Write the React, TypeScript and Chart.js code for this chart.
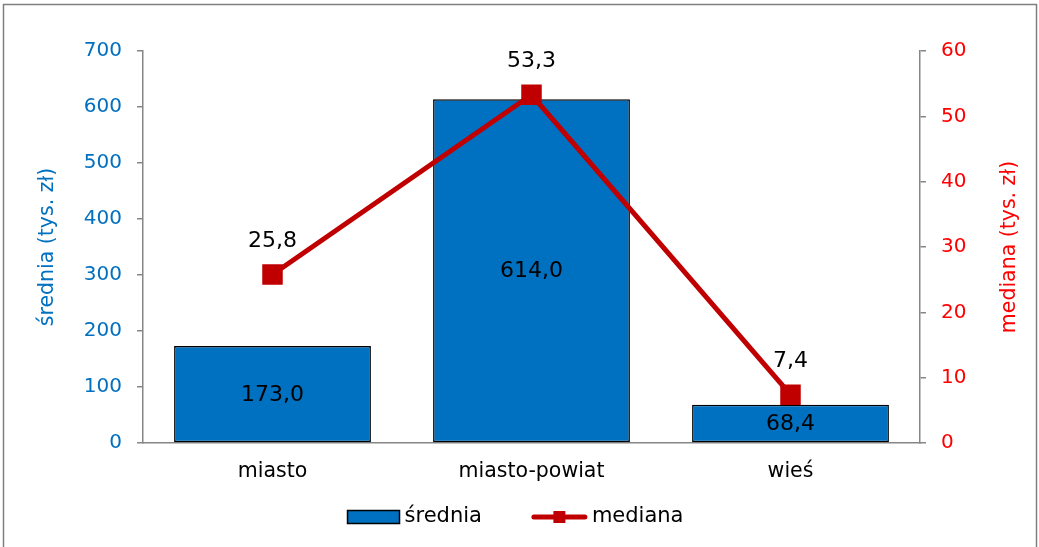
import React, { useEffect, useRef } from "react";
import { Chart, registerables } from "chart.js";

Chart.register(...registerables);

const categories = ["miasto", "miasto-powiat", "wieś"];
const sredniaValues = [173.0, 614.0, 68.4];
const medianaValues = [25.8, 53.3, 7.4];
const leftTicks = [0, 100, 200, 300, 400, 500, 600, 700];
const rightTicks = [0, 10, 20, 30, 40, 50, 60];
const leftTitle = "średnia (tys. zł)";
const rightTitle = "mediana (tys. zł)";

const FONT = "'DejaVu Sans', Verdana, sans-serif";
const BLUE = "#0070C0";
const DARKRED = "#C00000";
const RED = "#FF0000";
const AXIS = "#868686";

const fmt = (v: number) => v.toFixed(1).replace(".", ",");

const framePlugin = {
  id: "frame",
  beforeDraw(chart: any) {
    const ctx = chart.ctx;
    ctx.save();
    ctx.fillStyle = "#ffffff";
    ctx.fillRect(0, 0, chart.width, chart.height);
    ctx.strokeStyle = "#7f7f7f";
    ctx.lineWidth = 1.5;
    ctx.beginPath();
    ctx.moveTo(3.5, chart.height + 5);
    ctx.lineTo(3.5, 4.5);
    ctx.lineTo(chart.width - 2.5, 4.5);
    ctx.lineTo(chart.width - 2.5, chart.height + 5);
    ctx.stroke();
    ctx.restore();
  },
};

const rightTitlePlugin = {
  id: "rightTitle",
  afterDraw(chart: any) {
    const ctx = chart.ctx;
    const s = chart.scales.y1;
    const area = chart.chartArea;
    ctx.save();
    ctx.font = `20.5px ${FONT}`;
    ctx.fillStyle = RED;
    ctx.textAlign = "center";
    ctx.textBaseline = "middle";
    ctx.translate(s.right - 29, (area.top + area.bottom) / 2);
    ctx.rotate(-Math.PI / 2);
    ctx.fillText(rightTitle, 0, 0);
    ctx.restore();
  },
};

const labelsPlugin = {
  id: "valueLabels",
  afterDatasetsDraw(chart: any) {
    const ctx = chart.ctx;
    ctx.save();
    ctx.font = `22px ${FONT}`;
    ctx.fillStyle = "#000000";
    ctx.textAlign = "center";
    ctx.textBaseline = "middle";
    chart.data.datasets.forEach((ds: any, i: number) => {
      const meta = chart.getDatasetMeta(i);
      meta.data.forEach((el: any, j: number) => {
        const v = ds.data[j];
        if (ds.type === "bar") {
          ctx.fillText(fmt(v), el.x, (el.y + el.base) / 2 + 1);
        } else {
          ctx.fillText(fmt(v), el.x, el.y - 33);
        }
      });
    });
    ctx.restore();
  },
};

const legendPlugin = {
  id: "customLegend",
  afterDraw(chart: any) {
    const ctx = chart.ctx;
    ctx.save();
    ctx.font = `21px ${FONT}`;
    ctx.textBaseline = "middle";
    ctx.textAlign = "left";
    const t1 = chart.data.datasets[0].label;
    const t2 = chart.data.datasets[1].label;
    const w1 = ctx.measureText(t1).width;
    const w2 = ctx.measureText(t2).width;
    const boxW = 52;
    const lineW = 55;
    const gap = 5;
    const itemGap = 50;
    const total = boxW + gap + w1 + itemGap + lineW + gap + w2;
    let x = chart.width / 2 - total / 2 - 4;
    const y = 517;
    ctx.fillStyle = BLUE;
    ctx.fillRect(x, y - 6.5, boxW, 13);
    ctx.strokeStyle = "#000000";
    ctx.lineWidth = 1.5;
    ctx.strokeRect(x, y - 6.5, boxW, 13);
    x += boxW + gap;
    ctx.fillStyle = "#000000";
    ctx.fillText(t1, x, y);
    x += w1 + itemGap;
    ctx.strokeStyle = DARKRED;
    ctx.lineWidth = 5;
    ctx.lineCap = "round";
    ctx.beginPath();
    ctx.moveTo(x + 2, y);
    ctx.lineTo(x + lineW - 2, y);
    ctx.stroke();
    ctx.fillStyle = DARKRED;
    ctx.fillRect(x + lineW / 2 - 6, y - 6, 12, 12);
    x += lineW + gap;
    ctx.fillStyle = "#000000";
    ctx.fillText(t2, x, y);
    ctx.restore();
  },
};

export default function App() {
  const ref = useRef<HTMLCanvasElement | null>(null);

  useEffect(() => {
    if (!ref.current) return;
    const chart = new Chart(ref.current, {
      type: "bar",
      data: {
        labels: categories,
        datasets: [
          {
            type: "bar",
            label: "średnia",
            data: sredniaValues,
            backgroundColor: BLUE,
            borderColor: "#000000",
            borderWidth: 1.5,
            borderSkipped: false,
            categoryPercentage: 1,
            barPercentage: 0.76,
            yAxisID: "y",
            order: 1,
          } as any,
          {
            type: "line",
            label: "mediana",
            data: medianaValues,
            borderColor: DARKRED,
            backgroundColor: DARKRED,
            borderWidth: 5,
            pointStyle: "rect",
            pointRadius: 14.5,
            pointBorderWidth: 0,
            pointBackgroundColor: DARKRED,
            tension: 0,
            yAxisID: "y1",
            order: 0,
          } as any,
        ],
      },
      options: {
        responsive: false,
        animation: false,
        events: [],
        layout: { padding: { left: 0, right: 0, top: 51, bottom: 54 } },
        plugins: {
          legend: { display: false },
          tooltip: { enabled: false },
          title: { display: false },
        },
        scales: {
          x: {
            grid: { display: true, drawOnChartArea: false, drawTicks: false },
            border: { color: AXIS, width: 1.5 },
            ticks: {
              color: "#000000",
              font: { family: FONT, size: 20.5 },
              padding: 16,
              maxRotation: 0,
            },
            afterFit(scale: any) {
              scale.height = 50;
            },
          },
          y: {
            position: "left",
            min: 0,
            max: 700,
            afterBuildTicks(scale: any) {
              scale.ticks = leftTicks.map((v) => ({ value: v }));
            },
            grid: { display: true, drawOnChartArea: false, drawTicks: true, tickLength: 6, color: AXIS, lineWidth: 1.5 },
            border: { color: AXIS, width: 1.5 },
            ticks: {
              color: BLUE,
              font: { family: FONT, size: 20 },
              padding: 15,
            },
            title: {
              display: true,
              text: leftTitle,
              color: BLUE,
              font: { family: FONT, size: 20.5 },
              padding: { top: 35, bottom: 0 },
            },
            afterFit(scale: any) {
              scale.width = 143;
            },
          },
          y1: {
            position: "right",
            min: 0,
            max: 60,
            afterBuildTicks(scale: any) {
              scale.ticks = rightTicks.map((v) => ({ value: v }));
            },
            grid: { display: true, drawOnChartArea: false, drawTicks: true, tickLength: 6, color: AXIS, lineWidth: 1.5 },
            border: { color: AXIS, width: 1.5 },
            ticks: {
              color: RED,
              font: { family: FONT, size: 20 },
              padding: 15,
            },
            title: { display: false },
            afterFit(scale: any) {
              scale.width = 119;
            },
          },
        },
      } as any,
      plugins: [framePlugin, labelsPlugin, legendPlugin, rightTitlePlugin],
    });
    return () => chart.destroy();
  }, []);

  return (
    <div style={{ position: "absolute", left: 0, top: 0, width: 1039, height: 547 }}>
      <canvas ref={ref} width={1039} height={547} style={{ display: "block" }} />
    </div>
  );
}
